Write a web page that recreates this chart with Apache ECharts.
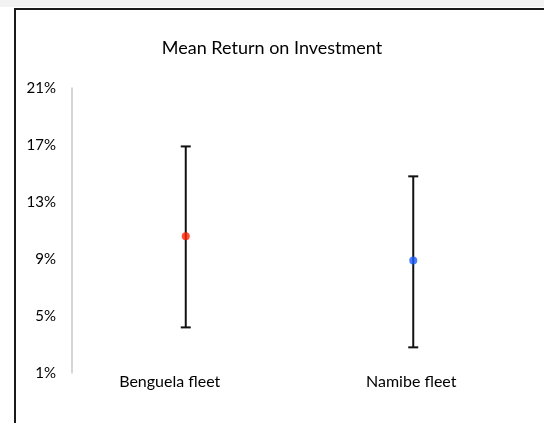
<!DOCTYPE html>
<html>
<head>
<meta charset="utf-8">
<script src="https://cdn.jsdelivr.net/npm/echarts@6/dist/echarts.min.js"></script>
<style>
  html, body { margin: 0; padding: 0; background: #ffffff; }
  #chart { width: 544px; height: 423px; }
</style>
</head>
<body>
<div id="chart"></div>
<script>
// Mean return on investment per fleet, with low/high range
const categories = ['Benguela fleet', 'Namibe fleet'];
const meanReturn = [10.6, 8.9];
const lowReturn = [4.2, 2.8];
const highReturn = [16.9, 14.8];
const yTicks = [1, 5, 9, 13, 17, 21];
const pointColors = ['#ff2200', '#1a5cff'];

const FONT = 'Lato';
const chart = echarts.init(document.getElementById('chart'), null, { renderer: 'canvas' });

const rangeData = categories.map((c, i) => [i, lowReturn[i], highReturn[i]]);

chart.setOption({
  backgroundColor: '#ffffff',
  animation: false,
  title: {
    text: 'Mean Return on Investment',
    left: 'center',
    top: 34,
    textStyle: { fontFamily: FONT, fontSize: 18, fontWeight: 'normal', color: '#000000' }
  },
  graphic: [
    { type: 'rect', shape: { x: 0, y: 0, width: 544, height: 7 }, style: { fill: '#f2f2f2' }, silent: true },
    { type: 'rect', shape: { x: 15, y: 9, width: 600, height: 600 }, style: { fill: 'none', stroke: '#1a1a1a', lineWidth: 2 }, silent: true }
  ],
  grid: { left: 72, right: 17, top: 88, bottom: 50 },
  xAxis: {
    type: 'category',
    data: categories,
    axisLine: { show: false },
    axisTick: { show: false },
    axisLabel: {
      margin: 1,
      fontFamily: FONT, fontSize: 16, color: '#000000',
      formatter: (v, i) => (i === 0 ? '{a|' : '{b|') + v + '}',
      rich: {
        a: { fontFamily: FONT, fontSize: 16, color: '#000000', padding: [0, 32, 0, 0] },
        b: { fontFamily: FONT, fontSize: 16, color: '#000000', padding: [0, 4, 0, 0] }
      }
    }
  },
  yAxis: {
    type: 'value',
    min: 1,
    max: 21,
    axisLine: { show: true, lineStyle: { color: '#c8c8c8', width: 1.5 } },
    axisTick: { show: false },
    splitLine: { show: false },
    axisLabel: {
      customValues: yTicks,
      margin: 16,
      fontFamily: FONT, fontSize: 15, color: '#000000',
      formatter: v => v + '%'
    }
  },
  series: [
    {
      type: 'custom',
      data: rangeData,
      z: 2,
      renderItem: (params, api) => {
        const x = api.value(0);
        const lo = api.coord([x, api.value(1)]);
        const hi = api.coord([x, api.value(2)]);
        const half = 5;
        const st = { stroke: '#111111', lineWidth: 2 };
        return {
          type: 'group',
          children: [
            { type: 'line', shape: { x1: lo[0], y1: lo[1], x2: hi[0], y2: hi[1] }, style: st },
            { type: 'line', shape: { x1: hi[0] - half, y1: hi[1], x2: hi[0] + half, y2: hi[1] }, style: st },
            { type: 'line', shape: { x1: lo[0] - half, y1: lo[1], x2: lo[0] + half, y2: lo[1] }, style: st }
          ]
        };
      }
    },
    {
      type: 'scatter',
      z: 3,
      symbol: 'circle',
      symbolSize: 8,
      data: meanReturn.map((v, i) => ({ value: [i, v], itemStyle: { color: pointColors[i] } }))
    }
  ]
});
</script>
</body>
</html>
